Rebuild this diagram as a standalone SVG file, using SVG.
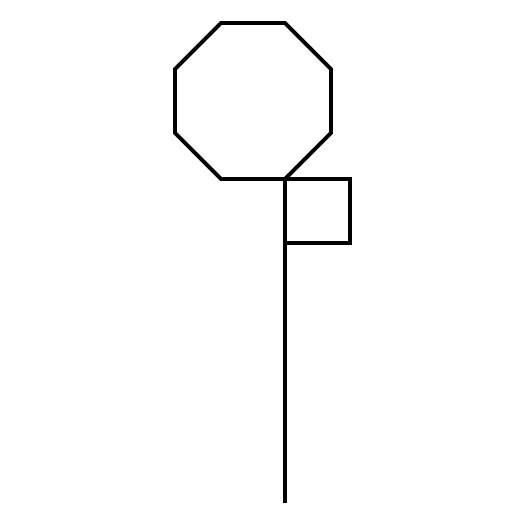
<svg xmlns="http://www.w3.org/2000/svg" width="525" height="525" viewBox="0 0 525 525">
<style>.s{fill:none;stroke:#000;stroke-width:4;stroke-linejoin:miter;stroke-linecap:butt}</style>
<rect width="525" height="525" fill="#fff"/>
<g id="octagon"><polygon class="s" points="221,23 285,23 331,69 331,133 285,179 221,179 175,133 175,69"/></g>
<g id="flag"><rect class="s" x="285" y="179" width="65" height="64"/></g>
<g id="connectors"><line class="s" x1="285" y1="179" x2="285" y2="503"/></g>
</svg>
